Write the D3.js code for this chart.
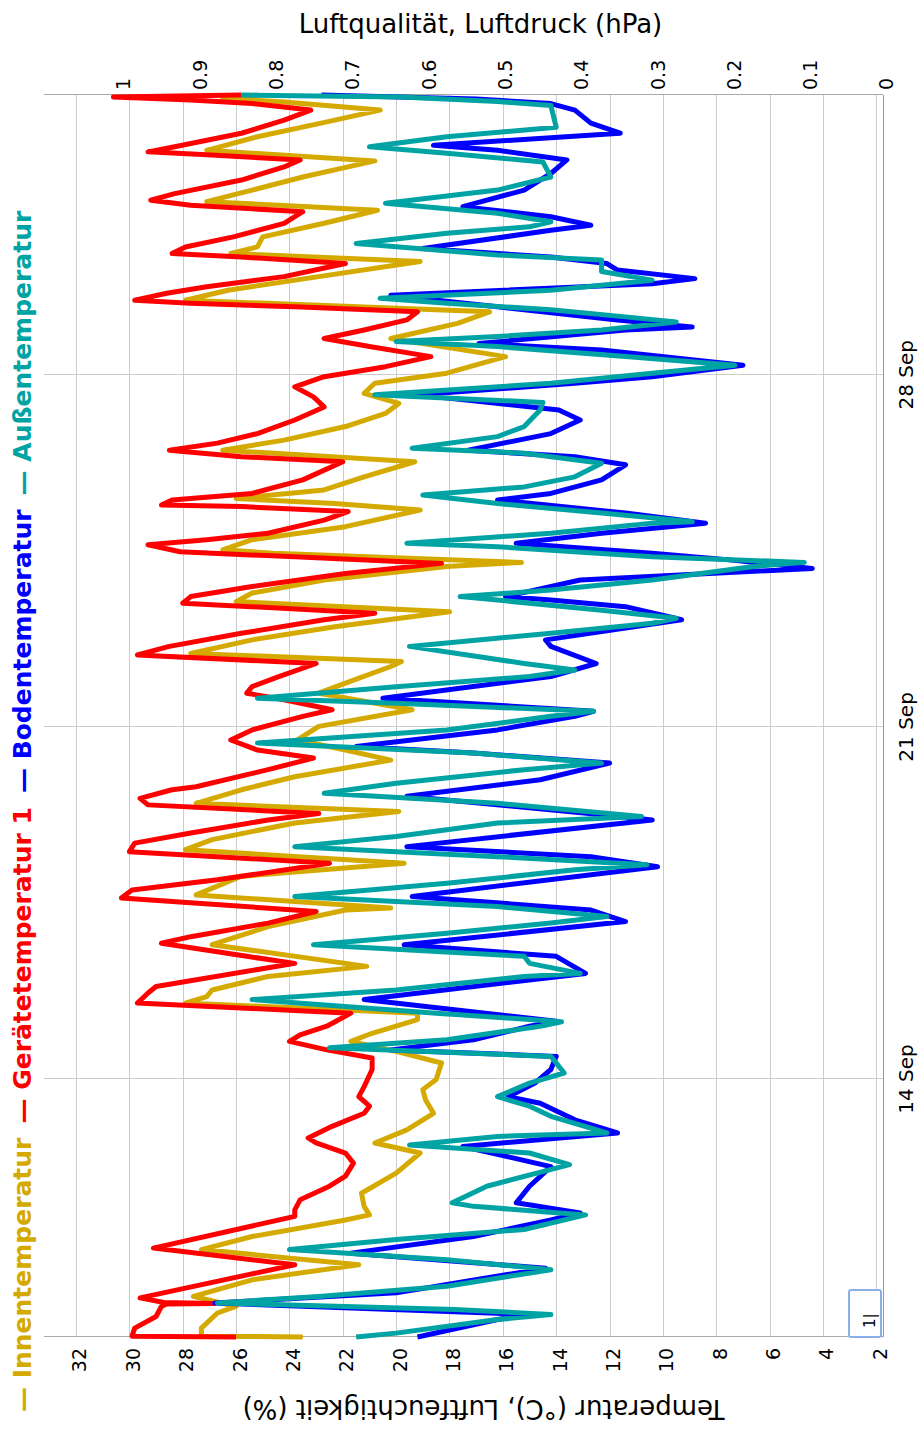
<!DOCTYPE html>
<html>
<head>
<meta charset="utf-8">
<script src="https://cdn.jsdelivr.net/npm/d3@7"></script>
<style>
body { margin: 0; background: #fff; }
text { font-family: "DejaVu Sans", sans-serif; }
</style>
</head>
<body>
<script>
// time values are fractional days of September (31 = 1 Oct)
var startDay = 8.873, endDay = 33.56;
var dateTicks = [14, 21, 28];
var tempTicks = d3.range(2, 33, 2);
var luftTicks = d3.range(0, 11).map(function(d) { return d / 10; });

var legendNames = ["Innentemperatur", "Gerätetemperatur 1", "Bodentemperatur", "Außentemperatur"];
var colors = ["#d4aa00", "#ff0000", "#0000ff", "#00a3a3"];

var innen = [[8.873,23.5],[8.89,27.3],[9.05,27.3],[9.35,26.7],[9.48,26.0],[9.68,27.6],[10.01,25.4],[10.31,21.4],
  [10.61,27.3],[10.87,25.4],[11.2,21.9],[11.3,21.0],[11.47,21.2],[11.73,21.3],[12.13,20.0],[12.53,19.1],[12.73,20.8],
  [12.99,19.6],[13.32,18.6],[13.59,18.9],[13.79,19.0],[13.99,18.5],[14.32,18.3],[14.55,20.0],[14.75,21.7],[14.91,20.9],
  [15.18,19.2],[15.31,19.2],[15.51,27.9],[15.64,27.1],[15.77,26.9],[16.04,24.8],[16.24,21.1],[16.67,26.9],[17.03,24.8],
  [17.36,21.9],[17.4,20.2],[17.66,27.5],[18.03,25.8],[18.29,19.7],[18.56,27.9],[18.76,26.9],[19.09,23.8],[19.32,19.9],
  [19.48,27.5],[19.75,25.8],[20.01,23.8],[20.34,20.2],[20.54,21.9],[20.74,23.7],[21.01,22.9],[21.34,19.4],[21.67,22.9],
  [21.87,21.9],[22.2,20.2],[22.3,19.8],[22.46,27.7],[22.73,25.4],[22.99,22.3],[23.29,18.0],[23.49,26.0],[23.66,25.4],
  [23.92,22.7],[24.19,18.1],[24.27,15.3],[24.45,24.6],[24.52,26.5],[24.72,25.4],[24.98,21.9],[25.31,19.1],[25.44,22.3],
  [25.54,26.0],[25.71,22.7],[25.97,21.2],[26.27,19.3],[26.5,26.5],[26.7,24.2],[26.97,21.9],[27.23,20.4],[27.43,19.9],
  [27.63,21.2],[27.83,20.8],[28.03,18.1],[28.36,15.9],[28.72,20.2],[29.02,17.7],[29.25,16.5],[29.48,27.9],[29.68,26.3],
  [29.95,22.9],[30.25,19.1],[30.41,26.2],[30.54,25.2],[30.74,25.0],[31.01,22.7],[31.27,20.7],[31.44,27.1],[31.67,25.4],
  [31.93,23.5],[32.25,20.8],[32.46,27.1],[32.73,25.2],[32.99,22.9],[33.26,20.6],[33.42,24.2],[33.49,26.5],[33.56,25.2]];

var geraet = [[8.873,26.0],[8.89,29.9],[9.05,29.8],[9.28,29.0],[9.48,28.8],[9.53,28.6],[9.54,26.8],[9.56,28.7],[9.65,29.6],
  [10.31,23.8],[10.64,29.1],[11.27,23.8],[11.4,23.8],[11.6,23.6],[11.87,22.5],[12.07,21.9],[12.33,21.6],[12.53,21.9],
  [12.73,23.0],[12.83,23.3],[13.06,22.4],[13.32,21.2],[13.46,21.0],[13.65,21.4],[13.85,21.2],[14.19,20.9],[14.42,20.9],
  [14.58,22.6],[14.75,24.0],[14.88,23.6],[15.05,22.6],[15.31,21.7],[15.51,29.7],[15.71,29.3],[15.84,29.0],[16.3,23.8],
  [16.44,25.6],[16.7,28.8],[16.83,27.7],[17.1,24.8],[17.33,23.0],[17.6,30.3],[17.76,29.9],[17.96,26.7],[18.29,22.5],
  [18.52,30.0],[18.69,29.8],[18.89,27.7],[19.15,24.8],[19.28,22.9],[19.45,29.3],[19.58,29.6],[19.75,28.4],[19.81,27.5],
  [20.15,24.8],[20.38,23.1],[20.54,25.2],[20.74,26.2],[20.94,25.4],[21.21,23.5],[21.34,22.4],[21.54,24.2],[21.67,25.6],
  [21.8,25.4],[22.0,24.4],[22.26,23.0],[22.43,29.7],[22.6,28.5],[22.86,25.8],[23.13,22.7],[23.26,20.8],[23.46,28.0],
  [23.59,27.7],[23.79,25.4],[24.05,21.9],[24.25,18.3],[24.38,23.8],[24.48,28.1],[24.62,29.3],[24.72,27.1],[24.85,24.8],
  [25.11,22.7],[25.28,21.8],[25.38,25.8],[25.41,28.8],[25.51,28.4],[25.64,25.4],[25.91,23.5],[26.27,22.0],[26.37,25.8],
  [26.5,28.5],[26.64,26.7],[26.83,25.2],[27.1,23.8],[27.36,22.7],[27.56,23.1],[27.76,23.8],[27.96,22.7],[28.16,20.4],
  [28.36,18.7],[28.56,21.0],[28.72,22.7],[28.89,21.2],[29.09,19.6],[29.25,19.2],[29.35,23.8],[29.42,27.7],[29.48,29.8],
  [29.62,28.6],[29.75,27.1],[29.95,24.2],[30.21,21.9],[30.34,25.8],[30.41,28.4],[30.54,27.9],[30.74,26.1],[31.01,24.2],
  [31.24,23.5],[31.37,27.7],[31.47,29.2],[31.6,28.3],[31.87,25.8],[32.13,24.2],[32.27,23.6],[32.37,27.1],[32.43,29.3],
  [32.53,28.3],[32.8,25.8],[33.06,24.2],[33.26,23.2],[33.39,25.4],[33.46,27.7],[33.52,30.6],[33.56,25.8]];

var boden = [[8.873,19.2],[9.22,16.2],[9.32,15.0],[9.55,26.8],[9.75,20.0],[9.95,17.7],[10.24,14.4],[10.54,21.7],
  [10.87,17.1],[11.2,14.2],[11.34,13.1],[11.54,15.5],[11.87,15.0],[12.26,14.2],[12.66,17.5],[12.93,11.7],[13.19,13.3],
  [13.52,14.6],[13.65,15.8],[13.92,14.8],[14.19,14.2],[14.45,14.0],[14.58,20.2],[14.78,17.1],[15.05,15.0],[15.15,14.0],
  [15.58,21.2],[16.1,12.9],[16.44,14.0],[16.67,19.7],[17.13,11.4],[17.36,12.7],[17.63,19.4],[18.22,10.2],[18.42,12.7],
  [18.62,19.6],[19.15,10.4],[19.22,11.6],[19.62,19.6],[19.95,14.6],[20.28,12.0],[20.48,17.1],[20.61,21.5],[20.94,16.2],
  [21.21,13.3],[21.31,12.6],[21.57,20.5],[22.0,14.2],[22.26,12.5],[22.6,14.2],[22.73,14.4],[23.13,9.3],[23.39,11.4],
  [23.52,14.2],[23.59,15.9],[23.92,13.1],[24.15,4.4],[24.32,7.5],[24.45,10.4],[24.65,15.5],[24.85,12.3],[25.05,8.4],
  [25.25,11.4],[25.51,16.2],[25.64,14.2],[25.91,12.3],[26.21,11.4],[26.37,13.3],[26.5,17.3],[26.83,14.2],[27.1,13.1],
  [27.3,13.9],[27.6,19.2],[27.83,13.3],[27.96,10.4],[28.19,7.0],[28.49,12.3],[28.62,16.9],[28.89,11.4],[28.95,8.9],
  [29.09,11.8],[29.35,16.2],[29.58,20.2],[29.81,10.4],[29.91,8.8],[30.08,11.7],[30.21,12.1],[30.34,14.2],[30.51,19.0],
  [30.87,14.2],[30.97,12.7],[31.14,14.2],[31.34,17.5],[31.67,15.2],[32.0,14.2],[32.27,13.6],[32.46,16.2],[32.56,18.6],
  [32.8,11.6],[33.0,12.7],[33.26,13.3],[33.39,14.2],[33.48,17.0],[33.56,22.8]];

var aussen = [[8.873,21.5],[8.95,20.0],[9.22,16.2],[9.32,14.2],[9.42,17.8],[9.55,26.7],[9.68,22.9],[9.88,18.1],
  [10.21,14.2],[10.41,18.1],[10.61,24.0],[10.81,20.0],[11.01,15.2],[11.3,12.9],[11.47,17.1],[11.54,17.9],[11.87,16.6],
  [12.3,13.5],[12.53,15.0],[12.69,19.5],[12.86,16.2],[12.93,12.1],[13.26,14.2],[13.46,15.0],[13.65,16.2],[13.92,15.0],
  [14.12,13.7],[14.45,14.2],[14.62,22.5],[14.78,18.1],[15.05,14.6],[15.14,13.8],[15.31,18.5],[15.58,25.4],[15.77,20.0],
  [16.04,15.2],[16.1,13.1],[16.3,15.0],[16.44,15.2],[16.67,23.1],[16.9,18.1],[17.1,14.2],[17.23,12.1],[17.43,16.2],
  [17.63,23.8],[17.89,18.1],[18.16,13.3],[18.26,10.6],[18.42,16.2],[18.62,23.8],[18.82,20.0],[19.09,16.2],[19.22,10.8],
  [19.48,16.2],[19.68,22.7],[19.88,20.0],[20.15,15.2],[20.28,12.3],[20.48,17.1],[20.68,25.2],[20.94,18.1],[21.21,14.2],
  [21.31,12.6],[21.47,20.0],[21.57,25.2],[21.8,20.0],[22.0,15.0],[22.13,13.3],[22.26,15.2],[22.6,19.5],[22.86,14.2],
  [23.06,10.4],[23.16,9.5],[23.32,12.3],[23.52,16.2],[23.59,17.6],[23.72,14.2],[23.92,10.4],[24.19,6.6],[24.27,4.7],
  [24.38,10.4],[24.58,16.2],[24.65,19.6],[24.85,14.2],[25.05,10.4],[25.08,8.9],[25.25,12.3],[25.44,16.2],[25.61,19.0],
  [25.77,15.2],[25.97,13.3],[26.24,12.3],[26.44,15.2],[26.54,19.4],[26.77,16.2],[26.97,15.2],[27.3,14.6],[27.45,14.5],
  [27.6,20.8],[27.83,14.2],[28.03,10.4],[28.19,7.3],[28.36,11.4],[28.56,16.2],[28.66,20.0],[28.76,16.2],[28.89,12.3],
  [29.05,9.5],[29.15,11.4],[29.29,14.2],[29.42,18.1],[29.52,20.6],[29.68,14.2],[29.88,10.4],[30.05,12.3],[30.28,12.3],
  [30.38,16.2],[30.61,21.5],[30.81,18.1],[30.94,15.0],[31.04,14.2],[31.21,16.2],[31.41,20.4],[31.67,16.2],[31.93,14.2],
  [32.23,14.5],[32.4,18.1],[32.53,21.0],[32.73,18.1],[32.92,14.0],[33.35,14.2],[33.43,16.2],[33.52,19.8],[33.56,25.8]];

var series = [innen, geraet, boden, aussen];

var W = 1432, H = 923;           // drawing frame before rotation
var x0 = 95, x1 = 1337;          // time range
var yTop = 44, yAxis = 883;      // temperature range

function toDate(d) { return new Date(Date.UTC(2023, 8, 1) + (d - 1) * 864e5); }

var svg = d3.select("body").append("svg")
    .attr("width", H)
    .attr("height", W);

// whole chart is turned a quarter turn to the left
var g = svg.append("g")
    .attr("transform", "translate(0," + W + ") rotate(-90)");

var x = d3.scaleUtc()
    .domain([toDate(startDay), toDate(endDay)])
    .range([x0, x1]);
var y = d3.scaleLinear().domain([1.75, 33.2]).range([yAxis, yTop]);
var yLuft = d3.scaleLinear().domain([0, 1]).range([yAxis, 120]);

// grid
g.append("g").selectAll("line").data(tempTicks).join("line")
    .attr("x1", x0).attr("x2", x1)
    .attr("y1", function(d) { return Math.round(y(d)) + 0.5; })
    .attr("y2", function(d) { return Math.round(y(d)) + 0.5; })
    .attr("stroke", "#ccc");
g.append("g").selectAll("line").data(dateTicks).join("line")
    .attr("x1", function(d) { return Math.round(x(toDate(d))) + 0.5; })
    .attr("x2", function(d) { return Math.round(x(toDate(d))) + 0.5; })
    .attr("y1", yTop).attr("y2", yAxis)
    .attr("stroke", "#ccc");

// frame
g.append("line").attr("x1", x0 + 0.5).attr("x2", x0 + 0.5).attr("y1", yTop).attr("y2", yAxis).attr("stroke", "#aaa");
g.append("line").attr("x1", x1 + 0.5).attr("x2", x1 + 0.5).attr("y1", yTop).attr("y2", yAxis).attr("stroke", "#aaa");
g.append("line").attr("x1", x0).attr("x2", x1).attr("y1", yAxis + 0.5).attr("y2", yAxis + 0.5).attr("stroke", "#999");

// lines
var line = d3.line()
    .x(function(d) { return x(toDate(d[0])); })
    .y(function(d) { return y(d[1]); });

g.append("g").selectAll("path").data(series).join("path")
    .attr("d", line)
    .attr("fill", "none")
    .attr("stroke", function(d, i) { return colors[i]; })
    .attr("stroke-width", 5)
    .attr("stroke-linejoin", "round");

// left axis (temperature)
g.append("g").selectAll("text").data(tempTicks).join("text")
    .attr("x", 84)
    .attr("y", function(d) { return y(d); })
    .attr("dy", "0.55em")
    .attr("text-anchor", "end")
    .attr("font-size", 19)
    .text(function(d) { return d; });

// right axis (Luftqualität)
g.append("g").selectAll("text").data(luftTicks).join("text")
    .attr("x", 1342)
    .attr("y", function(d) { return yLuft(d); })
    .attr("dy", "0.55em")
    .attr("font-size", 19)
    .text(function(d) { return d3.format("~g")(d); });

// time axis labels
g.append("g").selectAll("text").data(dateTicks).join("text")
    .attr("x", function(d) { return x(toDate(d)); })
    .attr("y", 913)
    .attr("text-anchor", "middle")
    .attr("font-size", 20)
    .text(function(d) { return d3.utcFormat("%-d %b")(toDate(d)); });

// axis titles
g.append("text")
    .attr("transform", "translate(32," + ((yTop + yAxis) / 2 + 20) + ") rotate(-90)")
    .attr("text-anchor", "middle")
    .attr("font-size", 26)
    .text("Temperatur (°C), Luftfeuchtigkeit (%)");
g.append("text")
    .attr("transform", "translate(1399," + ((yTop + yAxis) / 2 + 17) + ") rotate(90)")
    .attr("text-anchor", "middle")
    .attr("font-size", 26)
    .text("Luftqualität, Luftdruck (hPa)");

// legend
var lx = 20;
legendNames.forEach(function(name, i) {
    var t = g.append("text")
        .attr("x", lx).attr("y", 31)
        .attr("font-size", 25)
        .attr("font-weight", "bold")
        .attr("fill", colors[i])
        .text("— " + name);
    lx += t.node().getComputedTextLength() + 14;
});

// small input box
g.append("rect")
    .attr("x", 95).attr("y", 849).attr("width", 47).attr("height", 32)
    .attr("fill", "#fff").attr("stroke", "#8ab0ea").attr("stroke-width", 2).attr("rx", 2);
g.append("text")
    .attr("x", 104).attr("y", 875)
    .attr("font-size", 15)
    .text("1|");
</script>
</body>
</html>
